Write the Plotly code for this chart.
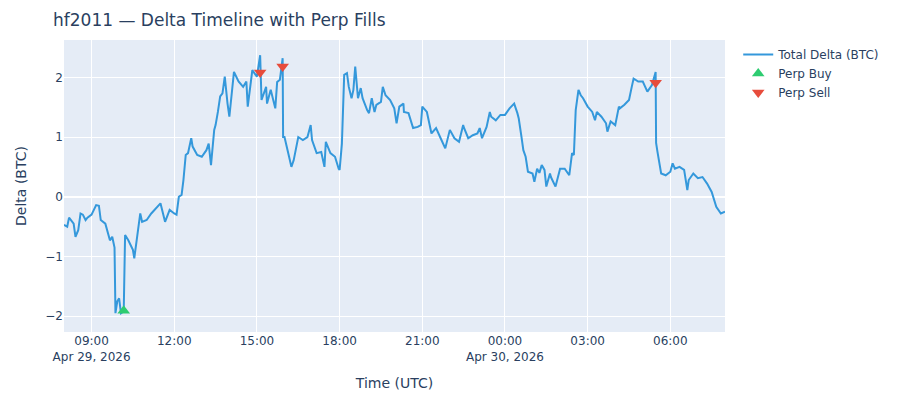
import pandas as pd
import plotly.graph_objects as go

START = pd.Timestamp("2026-04-29 08:00")

# minutes since 08:00 UTC on Apr 29, and total delta (BTC) at that time
delta_minutes = [
    0, 7, 11, 18, 21, 25, 31, 36, 41, 47, 51, 60, 70, 76, 80, 90, 100, 105,
    110, 112, 116, 120, 124, 130, 133, 140, 150, 153, 160, 166, 170, 180, 190,
    200, 210, 220, 230, 240, 245, 250, 256, 260, 265, 270, 277, 280, 290, 300,
    310, 315, 320, 327, 330, 335, 340, 345, 350, 356, 360, 370, 380, 390, 397,
    400, 410, 420, 427, 430, 440, 442, 450, 460, 464, 470, 476, 477, 480, 490,
    495, 500, 506, 510, 520, 530, 537, 540, 550, 560, 567, 570, 580, 590, 598,
    600, 605, 609, 610, 616, 620, 626, 630, 634, 640, 646, 650, 660, 664, 670,
    676, 680, 690, 694, 700, 710, 719, 724, 730, 739, 740, 750, 760, 770, 777,
    780, 790, 800, 810, 820, 830, 840, 850, 860, 869, 870, 880, 890, 900, 905,
    910, 920, 927, 930, 940, 950, 960, 970, 980, 987, 990, 996, 1000, 1005,
    1010, 1020, 1024, 1030, 1035, 1040, 1046, 1050, 1058, 1060, 1070, 1080,
    1090, 1100, 1106, 1110, 1114, 1120, 1125, 1130, 1140, 1150, 1156, 1160,
    1170, 1180, 1183, 1190, 1200, 1208, 1210, 1220, 1230, 1236, 1240, 1250,
    1260, 1270, 1280, 1288, 1289, 1292, 1300, 1310, 1320, 1325, 1330, 1340,
    1350, 1357, 1360, 1370, 1380, 1390, 1400, 1410, 1420, 1430, 1439,
]
delta_btc = [
    -0.47, -0.50, -0.35, -0.42, -0.45, -0.67, -0.56, -0.28, -0.30, -0.39,
    -0.35, -0.30, -0.14, -0.15, -0.39, -0.45, -0.73, -0.67, -0.85, -1.95,
    -1.75, -1.70, -1.95, -1.92, -0.64, -0.73, -0.89, -1.03, -0.61, -0.28,
    -0.42, -0.39, -0.28, -0.20, -0.11, -0.42, -0.22, -0.28, -0.30, 0.00,
    0.03, 0.28, 0.70, 0.73, 0.98, 0.84, 0.70, 0.67, 0.78, 0.89, 0.53, 1.12,
    1.20, 1.42, 1.68, 1.73, 2.01, 1.56, 1.34, 2.09, 1.93, 1.84, 1.93, 1.51,
    2.12, 2.01, 2.37, 1.62, 1.84, 1.56, 1.79, 1.48, 1.92, 1.96, 2.32, 1.00,
    1.00, 0.67, 0.50, 0.61, 0.89, 1.00, 0.95, 1.00, 1.20, 0.95, 0.73, 0.75,
    0.50, 0.92, 0.73, 0.67, 0.47, 0.45, 0.89, 1.62, 2.04, 2.07, 1.84, 1.65,
    1.79, 2.18, 1.65, 1.82, 1.65, 1.45, 1.40, 1.65, 1.42, 1.54, 1.59, 1.84,
    1.70, 1.62, 1.48, 1.23, 1.51, 1.56, 1.42, 1.40, 1.15, 1.17, 1.20, 1.51,
    1.42, 1.06, 1.15, 0.98, 0.81, 1.12, 0.98, 0.92, 1.20, 1.17, 0.98, 1.03,
    1.06, 1.15, 0.98, 1.17, 1.42, 1.34, 1.28, 1.37, 1.37, 1.48, 1.56, 1.40,
    1.31, 1.00, 0.78, 0.67, 0.42, 0.39, 0.25, 0.47, 0.40, 0.53, 0.45, 0.17,
    0.39, 0.33, 0.17, 0.47, 0.47, 0.36, 0.73, 0.70, 1.45, 1.79, 1.70, 1.65,
    1.51, 1.42, 1.28, 1.42, 1.34, 1.23, 1.09, 1.26, 1.20, 1.51, 1.48, 1.54,
    1.62, 1.84, 1.98, 1.93, 1.93, 1.76, 1.87, 2.09, 0.90, 0.75, 0.39, 0.36,
    0.42, 0.56, 0.47, 0.50, 0.45, 0.11, 0.28, 0.39, 0.31, 0.33, 0.22, 0.08,
    -0.17, -0.28, -0.25,
]

buy_minutes = [130]
buy_delta = [-1.91]
sell_minutes = [427, 476, 1288]
sell_delta = [2.08, 2.18, 1.91]


def to_time(minutes):
    return [START + pd.Timedelta(minutes=m) for m in minutes]


fig = go.Figure()
fig.add_trace(go.Scatter(
    x=to_time(delta_minutes), y=delta_btc, mode="lines",
    name="Total Delta (BTC)", line=dict(color="#3498db", width=2),
))
fig.add_trace(go.Scatter(
    x=to_time(buy_minutes), y=buy_delta, mode="markers", name="Perp Buy",
    marker=dict(symbol="triangle-up", size=11, color="#2ecc71"),
))
fig.add_trace(go.Scatter(
    x=to_time(sell_minutes), y=sell_delta, mode="markers", name="Perp Sell",
    marker=dict(symbol="triangle-down", size=11, color="#e74c3c"),
))

fig.update_layout(
    template="plotly",
    width=900, height=400,
    font=dict(family="DejaVu Sans, Verdana, sans-serif"),
    margin=dict(l=47, r=183, t=32, b=76),
    title=dict(text="hf2011 — Delta Timeline with Perp Fills",
               y=0.97, yanchor="middle"),
    xaxis=dict(title="Time (UTC)",
               range=[START, START + pd.Timedelta(minutes=delta_minutes[-1])]),
    yaxis=dict(title="Delta (BTC)", range=[-2.265, 2.625]),
)

fig.write_html("out.html")
